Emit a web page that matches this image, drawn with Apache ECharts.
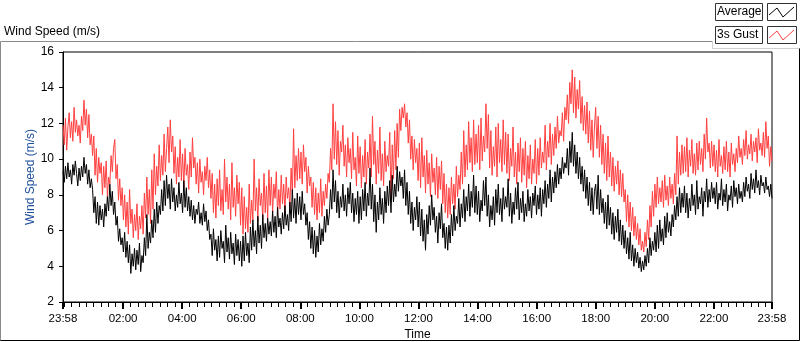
<!DOCTYPE html>
<html>
<head>
<meta charset="utf-8">
<script src="https://cdn.jsdelivr.net/npm/echarts@6/dist/echarts.min.js"></script>
<style>
  html, body { margin: 0; padding: 0; background: #fff; }
  #main { width: 800px; height: 342px; }
</style>
</head>
<body>
<div id="main"></div>
<script>
// minutes since 23:58, tick labels on the time axis
var tickMinutes = [0, 122, 242, 362, 482, 602, 722, 842, 962, 1082, 1202, 1322, 1440];
var tickLabels = ['23:58', '02:00', '04:00', '06:00', '08:00', '10:00', '12:00',
                  '14:00', '16:00', '18:00', '20:00', '22:00', '23:58'];

// 3s gust, 24 samples per hour
var gust = [
  11.9, 10.8, 12.3, 10.5, 11.8, 12.6, 11.2, 12.1, 11.0, 12.9, 11.5, 12.2, 11.3, 11.9, 10.9, 12.4, 11.6, 13.3, 11.9, 12.8, 11.2, 12.5, 10.8, 11.4,
  10.2, 11.3, 9.1, 10.6, 8.7, 10.1, 9.2, 9.8, 8.0, 9.6, 8.4, 9.9, 7.9, 9.0, 8.6, 10.2, 9.3, 10.6, 11.1, 8.9, 9.7, 7.7, 8.9, 7.4,
  8.4, 6.6, 8.0, 6.2, 7.6, 5.8, 8.3, 6.4, 7.2, 5.6, 6.9, 6.0, 7.5, 5.5, 6.8, 6.1, 7.4, 5.8, 8.1, 6.7, 9.0, 6.9, 8.3, 6.4,
  9.4, 7.2, 10.3, 8.0, 9.6, 8.5, 10.8, 8.8, 10.2, 9.1, 11.4, 9.3, 10.6, 11.8, 9.8, 12.2, 10.4, 11.3, 9.2, 10.7, 8.6, 10.1, 9.0, 11.1,
  8.8, 10.3, 8.4, 10.6, 9.1, 9.7, 8.3, 10.4, 9.0, 11.2, 9.5, 10.1, 8.6, 9.8, 8.1, 10.0, 8.7, 9.3, 8.0, 9.6, 8.8, 10.1, 8.4, 9.4,
  7.8, 9.2, 7.0, 8.6, 6.7, 8.9, 7.4, 9.4, 7.1, 8.3, 6.9, 10.0, 7.6, 9.0, 7.2, 8.6, 6.6, 9.8, 7.3, 8.4, 6.8, 9.1, 7.5, 8.7,
  6.3, 8.4, 5.8, 7.9, 6.1, 7.3, 5.9, 8.6, 6.4, 7.7, 6.6, 10.0, 7.1, 8.4, 6.5, 8.9, 7.4, 8.1, 6.6, 9.2, 7.0, 8.5, 6.7, 9.4,
  7.4, 9.0, 7.0, 8.6, 7.8, 9.3, 6.9, 8.3, 7.2, 9.1, 7.5, 8.6, 7.0, 9.0, 7.8, 8.4, 7.3, 9.5, 8.0, 11.7, 8.4, 10.2, 8.8, 10.6,
  8.9, 10.4, 8.6, 10.8, 9.3, 10.1, 8.1, 9.6, 8.5, 9.0, 7.3, 8.7, 6.9, 8.4, 6.6, 8.1, 7.0, 8.9, 6.8, 8.2, 7.4, 8.6, 7.8, 9.2,
  8.7, 10.6, 9.4, 13.1, 10.0, 12.1, 9.7, 11.6, 9.1, 11.0, 10.4, 11.9, 9.6, 10.8, 9.0, 11.2, 9.8, 10.6, 8.9, 11.5, 9.4, 10.1, 8.5, 11.3,
  9.2, 10.7, 8.4, 10.2, 9.0, 11.1, 8.6, 10.4, 9.5, 11.4, 9.0, 12.4, 9.7, 11.0, 8.6, 10.5, 9.2, 11.8, 8.8, 10.3, 8.5, 11.0, 9.3, 10.2,
  9.6, 11.5, 7.6, 10.8, 8.9, 11.6, 9.4, 12.0, 10.1, 12.8, 11.6, 12.9, 12.3, 13.1, 11.8, 12.6, 10.9, 12.2, 10.0, 11.3, 9.4, 11.1, 9.8, 10.6,
  8.8, 10.9, 8.4, 11.2, 9.0, 10.2, 8.1, 10.5, 8.6, 9.8, 7.9, 10.3, 8.7, 9.5, 8.0, 10.1, 7.8, 9.6, 8.3, 9.9, 7.5, 9.2, 7.0, 8.6,
  6.7, 8.4, 6.9, 9.0, 7.5, 8.6, 7.2, 9.6, 7.9, 9.1, 8.3, 10.4, 8.6, 11.6, 9.0, 10.8, 9.4, 12.1, 9.8, 11.2, 9.3, 12.2, 9.7, 11.4,
  9.8, 11.9, 9.4, 12.3, 9.9, 11.3, 10.4, 13.1, 10.6, 12.5, 9.5, 11.6, 9.1, 10.7, 9.6, 11.8, 9.0, 12.0, 9.8, 11.1, 9.3, 12.2, 9.7, 11.5,
  9.2, 11.4, 8.8, 10.6, 9.6, 11.8, 9.0, 10.4, 8.6, 10.9, 9.3, 11.2, 8.7, 10.6, 9.1, 11.0, 8.4, 10.2, 8.9, 10.8, 8.6, 10.0, 9.2, 11.1,
  8.6, 10.6, 9.1, 11.2, 9.5, 10.4, 9.8, 11.9, 9.4, 11.0, 10.1, 12.0, 9.7, 11.4, 10.2, 11.8, 10.6, 12.4, 10.9, 11.6, 11.3, 12.6, 11.0, 12.9,
  12.2, 13.6, 12.0, 14.3, 13.1, 15.0, 12.6, 14.6, 12.3, 13.9, 12.8, 14.4, 12.0, 13.5, 11.6, 13.0, 11.4, 13.2, 10.9, 12.7, 10.5, 12.2, 10.1, 11.8,
  12.9, 10.6, 12.4, 10.1, 11.9, 9.7, 11.4, 9.2, 10.9, 8.8, 11.3, 9.0, 10.4, 8.5, 10.1, 8.2, 9.6, 8.6, 9.9, 8.0, 9.4, 7.9, 9.2, 7.6,
  8.3, 6.5, 8.0, 6.2, 7.6, 6.0, 7.3, 5.7, 6.8, 5.5, 6.4, 5.2, 6.1, 4.9, 5.4, 4.8, 5.9, 5.1, 6.6, 5.5, 7.4, 6.2, 8.2, 6.8,
  8.6, 7.3, 9.0, 7.5, 8.4, 7.6, 8.8, 7.3, 9.1, 7.7, 8.5, 7.4, 9.0, 7.8, 8.6, 7.5, 9.2, 8.0, 11.3, 8.6, 10.4, 9.1, 10.8, 9.2,
  10.7, 9.3, 11.2, 9.0, 10.5, 9.6, 11.1, 9.2, 10.3, 9.1, 10.9, 9.4, 11.0, 9.7, 10.6, 9.3, 11.4, 10.0, 12.3, 10.4, 10.9, 9.5, 11.0, 9.6,
  10.8, 9.3, 10.5, 9.0, 11.1, 9.6, 10.2, 9.2, 10.7, 9.4, 11.0, 9.3, 10.4, 9.0, 10.9, 9.7, 10.3, 9.3, 10.6, 9.8, 11.3, 10.1, 10.6, 9.7,
  11.1, 10.2, 11.6, 10.0, 10.8, 10.3, 11.4, 9.9, 11.0, 10.4, 11.2, 9.8, 11.7, 10.5, 10.9, 10.2, 11.5, 10.1, 12.1, 10.6, 11.3, 9.6, 10.7, 9.9
];

// average wind speed, 24 samples per hour
var average = [
  9.3, 8.7, 9.6, 8.9, 9.8, 9.0, 9.4, 8.6, 9.7, 9.1, 9.9, 9.2, 8.5, 9.5, 8.8, 9.6, 9.0, 10.1, 9.2, 9.7, 8.6, 9.4, 8.4, 8.9,
  8.3, 7.0, 7.9, 6.4, 7.6, 6.3, 7.4, 6.6, 7.2, 6.2, 7.5, 6.8, 7.9, 7.1, 8.6, 7.4, 8.2, 6.9, 7.6, 6.3, 6.8, 5.4, 6.1, 5.2,
  5.6, 4.8, 5.9, 4.5, 5.4, 4.2, 5.2, 3.6, 4.7, 4.0, 5.0, 3.8, 4.9, 4.1, 5.3, 3.7, 4.6, 4.2, 5.6, 4.6, 6.9, 5.0, 5.9, 5.3,
  6.6, 5.6, 7.2, 5.9, 7.6, 6.4, 7.4, 6.9, 8.3, 7.1, 8.8, 7.4, 9.1, 7.8, 8.6, 7.2, 8.9, 7.6, 8.4, 7.1, 8.0, 7.3, 8.7, 7.5,
  8.1, 7.0, 8.8, 7.3, 8.4, 7.1, 7.9, 6.8, 7.7, 6.6, 7.4, 6.4, 7.2, 6.9, 7.6, 6.4, 7.0, 6.3, 7.5, 6.5, 7.1, 6.0, 6.6, 5.5,
  5.8, 4.6, 6.1, 4.9, 5.5, 4.3, 5.7, 4.5, 6.0, 5.0, 5.4, 4.2, 6.3, 4.8, 5.6, 4.4, 5.9, 4.7, 5.3, 4.1, 5.8, 4.6, 5.5, 4.3,
  5.4, 4.0, 5.7, 4.3, 5.9, 4.6, 5.3, 4.2, 6.2, 4.9, 6.6, 5.1, 6.0, 4.7, 6.8, 5.3, 6.3, 5.0, 6.9, 5.6, 6.4, 5.4, 6.7, 5.8,
  6.5, 5.7, 7.1, 5.9, 6.8, 5.6, 7.3, 6.2, 6.7, 5.8, 7.0, 6.1, 7.4, 6.3, 6.9, 6.0, 7.6, 6.5, 8.3, 6.7, 7.8, 6.4, 8.1, 6.9,
  7.9, 6.6, 8.2, 6.9, 7.5, 6.3, 7.0, 5.5, 6.5, 5.0, 6.2, 4.7, 6.0, 4.5, 5.7, 4.8, 6.4, 5.2, 6.1, 5.4, 6.8, 5.9, 7.2, 6.3,
  6.9, 8.3, 7.2, 9.4, 7.6, 8.8, 7.0, 8.2, 6.7, 7.9, 7.3, 8.6, 7.1, 8.0, 6.8, 8.4, 7.5, 8.7, 7.0, 8.1, 6.5, 7.8, 6.9, 8.2,
  6.4, 7.9, 6.6, 8.3, 7.1, 8.7, 6.8, 8.1, 7.4, 9.5, 7.2, 8.6, 6.5, 8.0, 5.9, 7.6, 6.6, 8.4, 6.9, 7.8, 6.4, 8.2, 7.0, 8.5,
  7.4, 8.8, 7.0, 9.1, 7.6, 8.6, 7.9, 9.6, 8.2, 9.3, 8.5, 9.0, 7.8, 9.4, 7.4, 8.7, 6.9, 8.2, 6.4, 7.6, 6.0, 7.3, 6.6, 7.9,
  6.2, 7.6, 5.7, 7.2, 5.4, 6.6, 4.9, 6.9, 5.8, 7.4, 6.3, 8.0, 6.6, 7.3, 5.9, 6.8, 5.3, 7.0, 6.1, 7.5, 5.6, 6.4, 5.0, 6.2,
  4.9, 6.3, 5.3, 6.9, 5.7, 7.4, 6.0, 6.8, 6.4, 7.8, 6.2, 7.5, 6.7, 8.3, 6.5, 7.9, 7.1, 8.6, 6.8, 8.2, 7.3, 9.1, 7.0, 8.5,
  6.9, 8.2, 6.5, 7.7, 7.1, 8.8, 7.4, 9.0, 6.8, 8.0, 6.2, 7.4, 6.6, 7.9, 6.3, 8.3, 7.0, 8.6, 6.9, 7.8, 6.5, 8.4, 7.2, 7.9,
  7.3, 8.9, 6.8, 8.1, 6.4, 7.6, 6.9, 8.4, 7.2, 8.7, 6.6, 7.8, 7.0, 8.2, 6.5, 7.5, 6.8, 8.3, 7.1, 7.9, 6.7, 8.1, 7.4, 8.5,
  6.9, 8.0, 7.2, 8.4, 6.8, 8.3, 7.5, 8.8, 7.3, 8.6, 7.8, 9.4, 7.6, 9.0, 8.1, 9.3, 8.4, 9.7, 8.6, 9.5, 8.9, 10.1, 9.2, 9.8,
  9.5, 10.6, 9.1, 11.0, 9.8, 11.5, 9.6, 10.8, 9.2, 10.4, 8.9, 10.1, 8.6, 9.6, 8.2, 9.4, 7.8, 9.0, 7.4, 8.7, 7.1, 8.4, 6.9, 8.2,
  8.6, 7.2, 9.1, 6.9, 8.3, 7.0, 7.8, 6.4, 7.6, 6.1, 8.0, 6.3, 7.3, 5.8, 7.0, 5.5, 6.8, 5.9, 7.2, 5.4, 6.6, 5.2, 6.3, 5.0,
  6.0, 4.7, 5.6, 4.4, 5.9, 4.3, 5.2, 4.0, 5.0, 4.2, 4.8, 3.9, 4.5, 3.7, 4.3, 3.8, 4.6, 4.0, 5.0, 4.2, 5.6, 4.6, 5.4, 4.9,
  5.9, 4.8, 6.3, 5.0, 6.6, 5.4, 6.1, 5.2, 6.8, 5.6, 7.0, 5.9, 6.5, 5.7, 6.9, 6.2, 7.4, 6.6, 7.9, 6.8, 8.4, 7.0, 8.1, 7.3,
  8.5, 7.0, 8.1, 6.7, 7.8, 7.1, 8.6, 7.4, 8.0, 6.9, 8.8, 7.2, 7.9, 7.5, 8.4, 6.8, 8.2, 7.6, 8.9, 7.3, 8.3, 7.6, 8.7, 7.8,
  8.4, 7.5, 8.7, 7.2, 8.1, 7.7, 8.9, 7.4, 8.3, 7.6, 8.6, 7.1, 8.0, 7.7, 8.5, 7.3, 8.8, 7.9, 8.4, 7.5, 8.6, 7.8, 8.2, 7.6,
  8.7, 7.9, 9.0, 8.2, 8.6, 7.8, 9.2, 8.3, 8.9, 8.1, 9.4, 8.4, 8.8, 8.0, 9.1, 8.5, 8.7, 8.1, 9.0, 8.3, 8.5, 7.9, 8.6, 7.8
];

var FONT = 'Liberation Sans';

function toPairs(list) {
    var out = [];
    var step = 1440 / (list.length - 1);
    for (var i = 0; i < list.length; i++) {
        out.push([i * step, list[i]]);
    }
    return out;
}

// minor ticks every 15 min on the clock (00:00 is minute 2)
var minorTicks = [];
for (var m = 2; m < 1440; m += 15) minorTicks.push(m);

var chart = echarts.init(document.getElementById('main'), null, { renderer: 'canvas' });

var option = {
    animation: false,
    backgroundColor: '#fff',
    grid: {
        left: 63, right: 28, top: 52, height: 250,
        outerBoundsMode: 'none', containLabel: false,
        show: true, borderColor: '#000', borderWidth: 1
    },
    xAxis: [{
        type: 'value', min: 0, max: 1440,
        name: 'Time', nameLocation: 'middle', nameGap: 27, nameMoveOverlap: false,
        nameTextStyle: { color: '#000', fontFamily: FONT, fontSize: 12 },
        axisLine: { show: true, lineStyle: { color: '#000', width: 1 } },
        axisTick: { show: true, customValues: tickMinutes, length: 7, lineStyle: { color: '#000', width: 2 } },
        axisLabel: {
            customValues: tickMinutes, margin: 11, color: '#000', fontFamily: FONT, fontSize: 11.5,
            formatter: function (v) { return tickLabels[tickMinutes.indexOf(v)]; }
        },
        splitLine: { show: false }
    }, {
        type: 'value', min: 0, max: 1440, position: 'bottom',
        axisLine: { show: false },
        axisTick: { show: true, customValues: minorTicks, length: 5, lineStyle: { color: '#000' } },
        axisLabel: { show: false },
        splitLine: { show: false }
    }],
    yAxis: {
        type: 'value', min: 2, max: 16, interval: 2,
        name: 'Wind Speed (m/s)', nameLocation: 'middle', nameGap: 26, nameRotate: 90, nameMoveOverlap: false,
        nameTextStyle: { color: '#1f4f9c', fontFamily: FONT, fontSize: 12 },
        axisLine: { show: true, lineStyle: { color: '#000' } },
        axisTick: { show: true, length: 4, lineStyle: { color: '#000' } },
        axisLabel: { margin: 9, color: '#000', fontFamily: FONT, fontSize: 12 },
        splitLine: { show: false }
    },
    series: [{
        name: '3s Gust', type: 'line', data: toPairs(gust), showSymbol: false, symbol: 'none',
        lineStyle: { color: '#ff4040', width: 1 }, itemStyle: { color: '#ff4040' }
    }, {
        name: 'Average', type: 'line', data: toPairs(average), showSymbol: false, symbol: 'none',
        lineStyle: { color: '#000', width: 1 }, itemStyle: { color: '#000' }
    }],
    graphic: [
        // outer panel frame
        { type: 'polyline', silent: true, shape: { points: [[0.5, 341], [0.5, 41.5], [712.5, 41.5]] },
          style: { stroke: '#8a8a8a', fill: null, lineWidth: 1 } },
        { type: 'polyline', silent: true, shape: { points: [[712.5, 41.5], [712.5, 48.5], [799.5, 48.5]] },
          style: { stroke: '#d0d0d0', fill: null, lineWidth: 1 } },
        { type: 'polyline', silent: true, shape: { points: [[799.5, 48.5], [799.5, 340.5], [0.5, 340.5]] },
          style: { stroke: '#000', fill: null, lineWidth: 1 } },
        // caption
        { type: 'text', left: 4, top: 26, style: { text: 'Wind Speed (m/s)', fill: '#000', font: '12px ' + FONT } },
        // legend
        { type: 'rect', shape: { x: 715.5, y: 3.5, width: 47, height: 17 }, style: { fill: '#fff', stroke: '#333' } },
        { type: 'text', left: 717, top: 6, style: { text: 'Average', fill: '#000', font: '12px ' + FONT } },
        { type: 'rect', shape: { x: 767.5, y: 3.5, width: 29, height: 17 }, style: { fill: '#fff', stroke: '#333' } },
        { type: 'polyline', shape: { points: [[769, 15], [777, 8], [783, 17], [794, 7]] },
          style: { stroke: '#000', fill: null, lineWidth: 1 } },
        { type: 'rect', shape: { x: 715.5, y: 26.5, width: 47, height: 17 }, style: { fill: '#fff', stroke: '#333' } },
        { type: 'text', left: 717, top: 29, style: { text: '3s Gust', fill: '#000', font: '12px ' + FONT } },
        { type: 'rect', shape: { x: 767.5, y: 26.5, width: 29, height: 17 }, style: { fill: '#fff', stroke: '#333' } },
        { type: 'polyline', shape: { points: [[769, 38], [777, 31], [783, 40], [794, 30]] },
          style: { stroke: '#ff4040', fill: null, lineWidth: 1 } }
    ]
};

chart.setOption(option);

window.onresize = function () {
    if (chart) chart.resize();
};
</script>
</body>
</html>
